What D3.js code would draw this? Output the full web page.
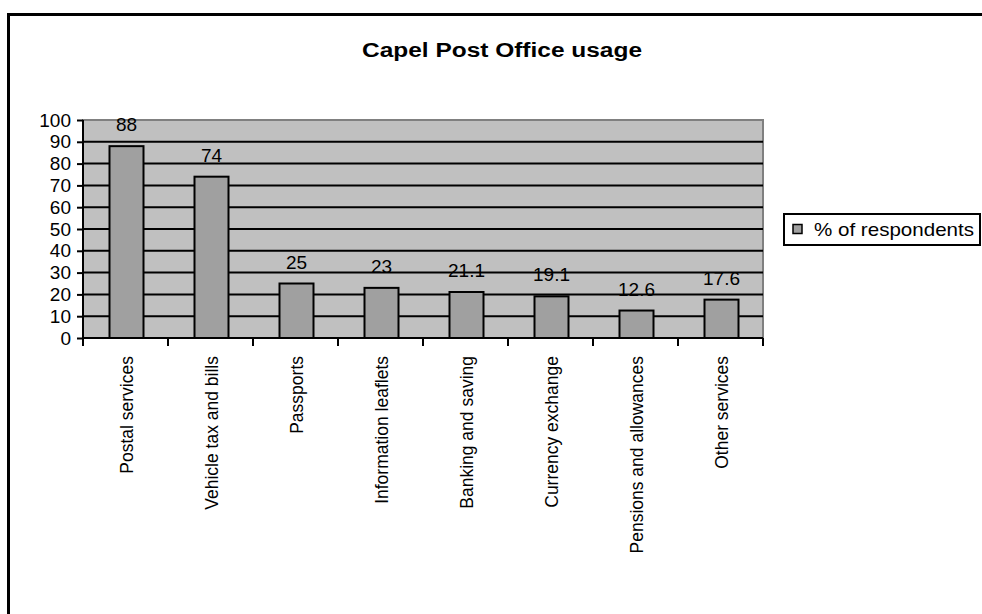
<!DOCTYPE html>
<html><head><meta charset="utf-8">
<script src="https://cdn.jsdelivr.net/npm/d3@7"></script>
<style>body{margin:0;background:#fff}svg{display:block;font-family:"Liberation Sans",Arial,sans-serif}</style>
</head><body><svg id="c" width="982" height="614"></svg>
<script>
const categories = ["Postal services","Vehicle tax and bills","Passports","Information leaflets","Banking and saving","Currency exchange","Pensions and allowances","Other services"];
const values = [88,74,25,23,21.1,19.1,12.6,17.6];
const valueLabels = ["88","74","25","23","21.1","19.1","12.6","17.6"];
const yTicks = [0,10,20,30,40,50,60,70,80,90,100];
const seriesName = "% of respondents";
const title = "Capel Post Office usage";

const svg = d3.select("#c");
svg.append("rect").attr("x",8.5).attr("y",14.5).attr("width",1000).attr("height",700)
  .attr("fill","#fff").attr("stroke","#000").attr("stroke-width",3);

const L=83, R=763, T=120, B=338;
const xb = d3.scaleBand().domain(categories).range([L,R]);
const y = d3.scaleLinear().domain([0,100]).range([B,T]);

svg.append("rect").attr("x",L).attr("y",T).attr("width",R-L).attr("height",B-T)
  .attr("fill","#C0C0C0").attr("stroke","#808080").attr("stroke-width",2);

svg.append("g").selectAll("line").data(yTicks.filter(d=>d>0 && d<100)).join("line")
  .attr("x1",L).attr("x2",R).attr("y1",d=>y(d)).attr("y2",d=>y(d))
  .attr("stroke","#000").attr("stroke-width",2);

svg.append("g").selectAll("rect").data(values).join("rect")
  .attr("x",(d,i)=>xb(categories[i])+xb.bandwidth()/2-17+1)
  .attr("width",34).attr("y",d=>y(d)).attr("height",d=>B-y(d))
  .attr("fill","#A0A0A0").attr("stroke","#000").attr("stroke-width",2);

// y axis
const ya = svg.append("g").attr("transform",`translate(${L},0)`)
  .call(d3.axisLeft(y).tickValues(yTicks).tickSize(6).tickPadding(6));
ya.select(".domain").attr("stroke","#000").attr("stroke-width",2).attr("d",`M0,${T}V${B}`);
ya.selectAll(".tick line").attr("stroke","#000").attr("stroke-width",2);
ya.selectAll(".tick text").attr("font-size",19).attr("fill","#000").attr("font-family","Liberation Sans, Arial, sans-serif");

// x axis
const xa = svg.append("g").attr("transform",`translate(0,${B})`)
  .call(d3.axisBottom(xb).tickSize(0).tickFormat(""));
xa.select(".domain").attr("stroke","#000").attr("stroke-width",2).attr("d",`M${L},0H${R}`);
xa.selectAll(".tick").remove();
const bounds = categories.map(c=>xb(c)).concat([R]);
xa.selectAll("line.tk").data(bounds).join("line").attr("class","tk")
  .attr("x1",d=>d).attr("x2",d=>d).attr("y1",0).attr("y2",8).attr("stroke","#000").attr("stroke-width",2);

svg.append("g").selectAll("text").data(categories).join("text")
  .attr("transform",d=>`translate(${xb(d)+xb.bandwidth()/2+7},356) rotate(-90)`)
  .attr("text-anchor","end").attr("font-size",17.5).text(d=>d);

// data labels
svg.append("g").selectAll("text").data(values).join("text")
  .attr("x",(d,i)=>xb(categories[i])+xb.bandwidth()/2+1).attr("y",d=>y(d)-15)
  .attr("text-anchor","middle").attr("font-size",19).text((d,i)=>valueLabels[i]);

svg.append("text").attr("x",362).attr("y",57)
  .attr("font-size",20).attr("font-weight","bold")
  .attr("textLength",280).attr("lengthAdjust","spacingAndGlyphs").text(title);

// legend
svg.append("rect").attr("x",784).attr("y",214).attr("width",196).attr("height",31)
  .attr("fill","#fff").attr("stroke","#000").attr("stroke-width",2);
svg.append("rect").attr("x",793).attr("y",224.5).attr("width",9).attr("height",9)
  .attr("fill","#A0A0A0").attr("stroke","#000").attr("stroke-width",1.5);
svg.append("text").attr("x",814).attr("y",236).attr("font-size",19)
  .attr("textLength",160).attr("lengthAdjust","spacingAndGlyphs").text(seriesName);
</script></body></html>
